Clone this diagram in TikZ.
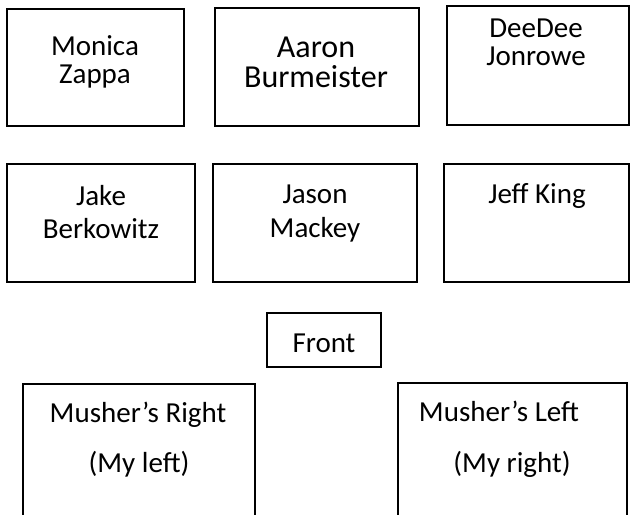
\documentclass[tikz,border=0pt]{standalone}
\usepackage{fontspec}
\setmainfont{Carlito}
\usetikzlibrary{fit}
\begin{document}
\begin{tikzpicture}[x=0.75pt,y=-0.75pt,
  box/.style={draw=black, line width=1.2pt, inner sep=0pt, fit={#1}},
  lbl/.style={anchor=base, inner sep=0pt, font=\fontsize{21.75}{26}\selectfont},
  biglbl/.style={anchor=base, inner sep=0pt, font=\fontsize{24}{29}\selectfont}]
\useasboundingbox (0,0) rectangle (631,514);
\clip (0,0) rectangle (631,514);
% row 1
\node[box={(7,9) (184,126)}] (mz) {};
\node[box={(215,8) (419,126)}] (ab) {};
\node[box={(447,6) (629,125)}] (dj) {};
% row 2
\node[box={(7,164) (195,282)}] (jb) {};
\node[box={(213,164) (417,282)}] (jm) {};
\node[box={(444,164) (629,282)}] (jk) {};
% front
\node[box={(267,313) (381,367)}] (fr) {};
% bottom boxes (cut off by the lower edge)
\node[box={(23,384) (255,522)}] (mr) {};
\node[box={(398,383) (627,522)}] (ml) {};
% labels
\node[lbl] (t1a) at (95,55) {Monica};
\node[lbl] (t1b) at (95,83) {Zappa};
\node[biglbl] (t2a) at (316,57) {Aaron};
\node[biglbl] (t2b) at (316,87) {Burmeister};
\node[lbl] (t3a) at (536,37) {DeeDee};
\node[lbl] (t3b) at (536,65) {Jonrowe};
\node[lbl] (t4a) at (101,205) {Jake};
\node[lbl] (t4b) at (101,238) {Berkowitz};
\node[lbl] (t5a) at (315,203) {Jason};
\node[lbl] (t5b) at (315,237) {Mackey};
\node[lbl] (t6a) at (537,203) {Jeff King};
\node[lbl] (t7a) at (324,352) {Front};
\node[lbl] (t8a) at (138,422) {Musher’s Right};
\node[lbl] (t8b) at (139,472) {(My left)};
\node[lbl] (t9a) at (499,421) {Musher’s Left};
\node[lbl] (t9b) at (512,472) {(My right)};
\end{tikzpicture}
\end{document}
